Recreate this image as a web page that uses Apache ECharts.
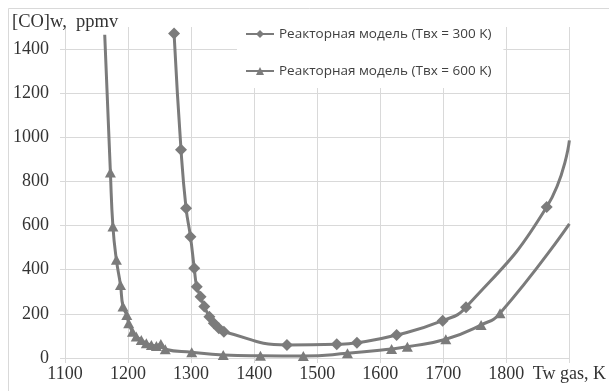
<!DOCTYPE html>
<html>
<head>
<meta charset="utf-8">
<script src="https://cdn.jsdelivr.net/npm/echarts@6/dist/echarts.min.js"></script>
<style>html,body{margin:0;padding:0;background:#fff}#c{width:609px;height:391px}</style>
</head>
<body>
<div id="c"></div>
<script>
// Series 1: Реакторная модель (Tвх = 300 K)
var s1Name = 'Реакторная модель (Tвх = 300 K)';
var s1T = [1273, 1284, 1292, 1299, 1305, 1309, 1315, 1321, 1329, 1336, 1344, 1352, 1452, 1531, 1563, 1626, 1699, 1736, 1864, 1900];
var s1V = [1470, 944, 679, 550, 407, 323, 278, 233, 187, 157, 135, 119, 59, 62, 69, 104, 169, 230, 684, 986];
var s1NoMarker = [19];
// Series 2: Реакторная модель (Tвх = 600 K)
var s2Name = 'Реакторная модель (Tвх = 600 K)';
var s2T = [1163, 1172, 1176, 1181.5, 1188, 1192, 1198, 1201, 1207, 1213, 1221, 1229, 1237, 1245, 1252, 1259, 1301, 1351, 1410, 1478, 1548, 1618, 1643, 1704, 1760, 1790, 1900];
var s2V = [1465, 841, 596, 445, 331, 233, 195, 157, 119, 97, 82, 67, 59, 54, 64, 40, 26, 14, 10, 9, 21, 41, 51, 85, 150, 203, 608];
var s2NoMarker = [0, 26];

var xMin = 1100, xMax = 1900, xStep = 100;
var yMin = 0, yMax = 1500, yStep = 200;
var xAxisName = 'Tw gas, K';
var yAxisName = '[CO]w,  ppmv';

function build(T, V, noMarker) {
  return T.map(function (t, i) {
    var d = { value: [t, V[i]] };
    if (noMarker.indexOf(i) >= 0) d.symbol = 'none';
    return d;
  });
}

var grey = '#7b7b7b';
var gridC = '#d9d9d9';
var serif = '"Liberation Serif", "Times New Roman", serif';

var chart = echarts.init(document.getElementById('c'), null, { renderer: 'canvas' });
chart.setOption({
  animation: false,
  backgroundColor: '#fff',
  title: {
    text: yAxisName, left: 12, top: 13, padding: 0,
    textStyle: { fontFamily: serif, fontSize: 18.5, fontWeight: 'normal', color: '#333' }
  },
  graphic: [{
    type: 'rect', silent: true, z: -10,
    shape: { x: 8.5, y: 8.5, width: 700, height: 500 },
    style: { fill: 'none', stroke: gridC, lineWidth: 1 }
  }],
  legend: {
    orient: 'vertical', left: 237, top: 27,
    padding: [0, 12, 10, 8], itemGap: 23, itemWidth: 28, itemHeight: 10,
    backgroundColor: '#fff',
    textStyle: { fontFamily: '"Open Sans", "Noto Sans", sans-serif', fontSize: 13.5, color: '#404040' },
    data: [s1Name, s2Name]
  },
  grid: { left: 65, right: 37, top: 27, bottom: 33, containLabel: false },
  xAxis: {
    type: 'value', min: xMin, max: xMax, interval: xStep,
    axisLine: { show: true, lineStyle: { color: gridC, width: 1 } },
    axisTick: { show: true, length: 5, lineStyle: { color: gridC } },
    splitLine: { show: true, lineStyle: { color: gridC, width: 1 } },
    axisLabel: {
      margin: 7, fontFamily: serif, fontSize: 18, color: '#333',
      formatter: function (v) { return v === xMax ? xAxisName : String(v); }
    }
  },
  yAxis: {
    type: 'value', min: yMin, max: yMax, interval: yStep,
    axisLine: { show: true, lineStyle: { color: gridC, width: 1 } },
    axisTick: { show: true, length: 5, lineStyle: { color: gridC } },
    splitLine: { show: true, showMaxLine: false, lineStyle: { color: gridC, width: 1 } },
    axisLabel: {
      margin: 16, fontFamily: serif, fontSize: 18, color: '#333', showMaxLabel: false,
      formatter: function (v) { return String(v); }
    }
  },
  series: [{
    name: s1Name, type: 'line', smooth: 0.5,
    symbol: 'diamond', symbolSize: [12, 12], showAllSymbol: true,
    lineStyle: { color: grey, width: 3 }, itemStyle: { color: grey },
    data: build(s1T, s1V, s1NoMarker)
  }, {
    name: s2Name, type: 'line', smooth: 0.5,
    symbol: 'triangle', symbolSize: [11, 10], showAllSymbol: true,
    lineStyle: { color: grey, width: 3 }, itemStyle: { color: grey },
    data: build(s2T, s2V, s2NoMarker)
  }]
});
</script>
</body>
</html>
